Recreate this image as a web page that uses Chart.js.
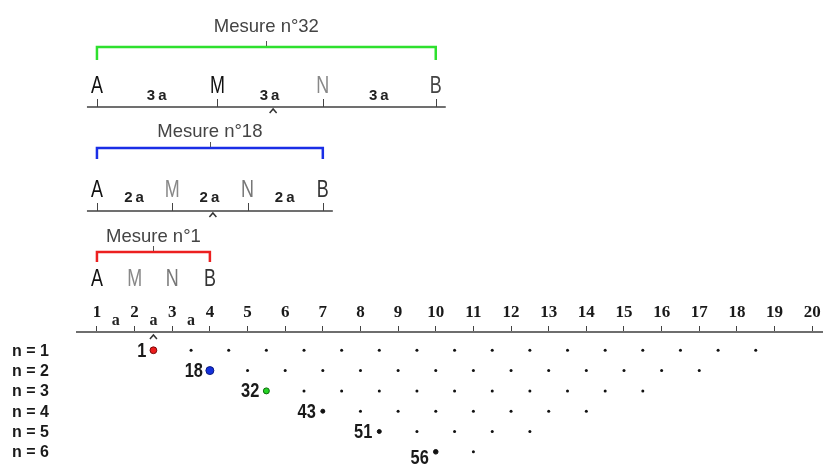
<!DOCTYPE html>
<html lang="fr">
<head>
<meta charset="utf-8">
<title>Pseudo-section Wenner</title>
<script src="https://cdn.jsdelivr.net/npm/chart.js@4.4.1/dist/chart.umd.min.js"></script>
<style>
  html, body { margin: 0; padding: 0; background: #fff; }
  #wrap { width: 827px; height: 469px; }
</style>
</head>
<body>
<div id="wrap"><canvas id="pseudoSection" width="827" height="469"></canvas></div>
<script>
const electrodes = [1, 2, 3, 4, 5, 6, 7, 8, 9, 10, 11, 12, 13, 14, 15, 16, 17, 18, 19, 20];
const levels = [1, 2, 3, 4, 5, 6];
const levelLabels = ["n = 1", "n = 2", "n = 3", "n = 4", "n = 5", "n = 6"];
const firstMeasures = [1, 18, 32, 43, 51, 56];

// midpoint (in electrode units) of each measurement, level by level
const level1 = [2.5, 3.5, 4.5, 5.5, 6.5, 7.5, 8.5, 9.5, 10.5, 11.5, 12.5, 13.5, 14.5, 15.5, 16.5, 17.5, 18.5];
const level2 = [4, 5, 6, 7, 8, 9, 10, 11, 12, 13, 14, 15, 16, 17];
const level3 = [5.5, 6.5, 7.5, 8.5, 9.5, 10.5, 11.5, 12.5, 13.5, 14.5, 15.5];
const level4 = [7, 8, 9, 10, 11, 12, 13, 14];
const level5 = [8.5, 9.5, 10.5, 11.5, 12.5];
const level6 = [10, 11];
const levelPoints = [level1, level2, level3, level4, level5, level6];

const firstColors = ["#ec1c1c", "#1430dc", "#25d425", "#111", "#111", "#111"];
const firstBorders = ["#7a0a0a", "#0a1a80", "#0b6a0b", "#111", "#111", "#111"];
const firstRadius = [3.4, 4, 3, 2, 2, 2.3];

// quadripoles drawn above the axis: A, M, N, B electrode positions
const diagramTitles = ["Mesure n°32", "Mesure n°18", "Mesure n°1"];
const diagramColors = ["#2ee02e", "#1a2ee6", "#ec2020"];
const diagramElectrodes = [[1, 4.2, 7, 10], [1, 3, 5, 7], [1, 2, 3, 4]];
const diagramLetters = ["A", "M", "N", "B"];
const diagramLetterColors = [
  ["#111", "#111", "#888", "#444"],
  ["#111", "#888", "#777", "#333"],
  ["#111", "#888", "#777", "#333"]
];
const spacingLabels = ["3a", "2a", "a"];

const layout = [
  { titleY: 27, bracketY: 47, legY: 60, letterY: 87, spaceY: 96, lineY: 107 },
  { titleY: 132, bracketY: 148, legY: 159, letterY: 191, spaceY: 198, lineY: 211 },
  { titleY: 237, bracketY: 252, legY: 262, letterY: 280, spaceY: 325, lineY: null }
];

const sans = "'Liberation Sans', Arial, sans-serif";
const serif = "'Liberation Serif', 'Times New Roman', serif";
const AXIS_Y = 0.1;

const caret = (ctx, x, y) => {
  ctx.beginPath();
  ctx.moveTo(x - 3.5, y + 4);
  ctx.lineTo(x, y);
  ctx.lineTo(x + 3.5, y + 4);
  ctx.stroke();
};

// Arial Narrow look-alike: squeeze Liberation Sans horizontally
const narrowText = (ctx, text, x, y, squeeze) => {
  ctx.save();
  ctx.translate(x, y);
  ctx.scale(squeeze, 1);
  ctx.fillText(text, 0, 0);
  ctx.restore();
};

const annotations = {
  id: "pseudoSectionAnnotations",
  afterDraw(chart) {
    const { ctx } = chart;
    const xs = chart.scales.x;
    const ys = chart.scales.y;
    const axisY = ys.getPixelForValue(AXIS_Y);
    ctx.save();

    // level names
    ctx.fillStyle = "#1a1a1a";
    ctx.font = "bold 16px " + sans;
    ctx.textAlign = "left";
    ctx.textBaseline = "middle";
    levels.forEach((n, i) => {
      ctx.fillText(levelLabels[i], 12, ys.getPixelForValue(n) + 1);
    });

    // number of the first measurement of each level
    ctx.font = "bold 20px " + sans;
    ctx.textAlign = "right";
    levels.forEach((n, i) => {
      const pt = chart.getDatasetMeta(i).data[0];
      const dy = i === levels.length - 1 ? 7 : 1;
      narrowText(ctx, String(firstMeasures[i]), pt.x - 7, pt.y + dy, 0.82);
    });

    // "a" spacings on the main axis
    ctx.font = "bold 16px " + serif;
    ctx.textAlign = "center";
    ctx.textBaseline = "alphabetic";
    ctx.fillStyle = "#222";
    const first = diagramElectrodes[2];
    for (let k = 0; k < 3; k++) {
      const mx = (xs.getPixelForValue(first[k]) + xs.getPixelForValue(first[k + 1])) / 2;
      ctx.fillText(spacingLabels[2], mx, layout[2].spaceY);
    }
    ctx.strokeStyle = "#333";
    ctx.lineWidth = 1.5;
    caret(ctx, (xs.getPixelForValue(first[1]) + xs.getPixelForValue(first[2])) / 2, axisY + 3);

    // the three quadripoles
    diagramElectrodes.forEach((el, d) => {
      const L = layout[d];
      const px = el.map((v) => xs.getPixelForValue(v));
      const xA = px[0];
      const xB = px[3];
      const mid = (xA + xB) / 2;

      if (L.lineY !== null) {
        ctx.strokeStyle = "#707070";
        ctx.lineWidth = 2;
        ctx.beginPath();
        ctx.moveTo(xA - 10, L.lineY);
        ctx.lineTo(xB + 10, L.lineY);
        ctx.stroke();
        ctx.strokeStyle = "#444";
        ctx.lineWidth = 1;
        px.forEach((x) => {
          ctx.beginPath();
          ctx.moveTo(Math.round(x) + 0.5, L.lineY - 8);
          ctx.lineTo(Math.round(x) + 0.5, L.lineY);
          ctx.stroke();
        });
        ctx.strokeStyle = "#333";
        ctx.lineWidth = 1.5;
        caret(ctx, (px[1] + px[2]) / 2 + 3, L.lineY + 2);

        ctx.fillStyle = "#222";
        ctx.font = "bold 15px " + sans;
        ctx.letterSpacing = "3px";
        ctx.textAlign = "center";
        ctx.textBaseline = "middle";
        for (let k = 0; k < 3; k++) {
          ctx.fillText(spacingLabels[d], (px[k] + px[k + 1]) / 2 + 1, L.spaceY);
        }
        ctx.letterSpacing = "0px";
      }

      // bracket
      ctx.strokeStyle = diagramColors[d];
      ctx.lineWidth = 2.5;
      ctx.beginPath();
      ctx.moveTo(xA, L.legY);
      ctx.lineTo(xA, L.bracketY);
      ctx.lineTo(xB, L.bracketY);
      ctx.lineTo(xB, L.legY);
      ctx.stroke();
      ctx.strokeStyle = "#555";
      ctx.lineWidth = 1;
      ctx.beginPath();
      ctx.moveTo(Math.round(mid) + 0.5, L.bracketY - 6);
      ctx.lineTo(Math.round(mid) + 0.5, L.bracketY - 1);
      ctx.stroke();

      ctx.fillStyle = "#444";
      ctx.font = "18.5px " + sans;
      ctx.textAlign = "center";
      ctx.textBaseline = "middle";
      ctx.fillText(diagramTitles[d], mid, L.titleY);

      ctx.font = "23px " + sans;
      px.forEach((x, k) => {
        ctx.fillStyle = diagramLetterColors[d][k];
        narrowText(ctx, diagramLetters[k], x, L.letterY, 0.78);
      });
    });

    ctx.restore();
  }
};

const datasets = levelPoints.map((points, i) => ({
  label: levelLabels[i],
  data: points.map((x) => ({ x, y: levels[i] })),
  showLine: false,
  pointRadius: (c) => (c.dataIndex === 0 ? firstRadius[i] : 1.5),
  pointBackgroundColor: (c) => (c.dataIndex === 0 ? firstColors[i] : "#111"),
  pointBorderColor: (c) => (c.dataIndex === 0 ? firstBorders[i] : "#111"),
  pointBorderWidth: (c) => (c.dataIndex === 0 ? 1 : 0)
}));

new Chart(document.getElementById("pseudoSection"), {
  type: "scatter",
  data: { datasets },
  plugins: [annotations],
  options: {
    responsive: false,
    animation: false,
    events: [],
    layout: { padding: { left: 77, right: 0, top: 0, bottom: 0 } },
    plugins: { legend: { display: false }, tooltip: { enabled: false } },
    scales: {
      x: {
        type: "linear",
        min: 0.47,
        max: 20.26,
        position: { y: AXIS_Y },
        afterBuildTicks: (scale) => {
          scale.ticks = electrodes.map((v) => ({ value: v }));
        },
        grid: {
          drawOnChartArea: false,
          drawTicks: true,
          tickLength: -7,
          tickWidth: 1,
          tickColor: "#444"
        },
        border: { display: true, color: "#6e6e6e", width: 2 },
        ticks: {
          autoSkip: false,
          maxRotation: 0,
          padding: -23,
          color: "#1a1a1a",
          font: { family: serif, weight: "bold", size: 17 },
          callback: (v) => String(v)
        }
      },
      y: {
        type: "linear",
        display: false,
        reverse: true,
        min: -16,
        max: 6.6
      }
    }
  }
});
</script>
</body>
</html>
